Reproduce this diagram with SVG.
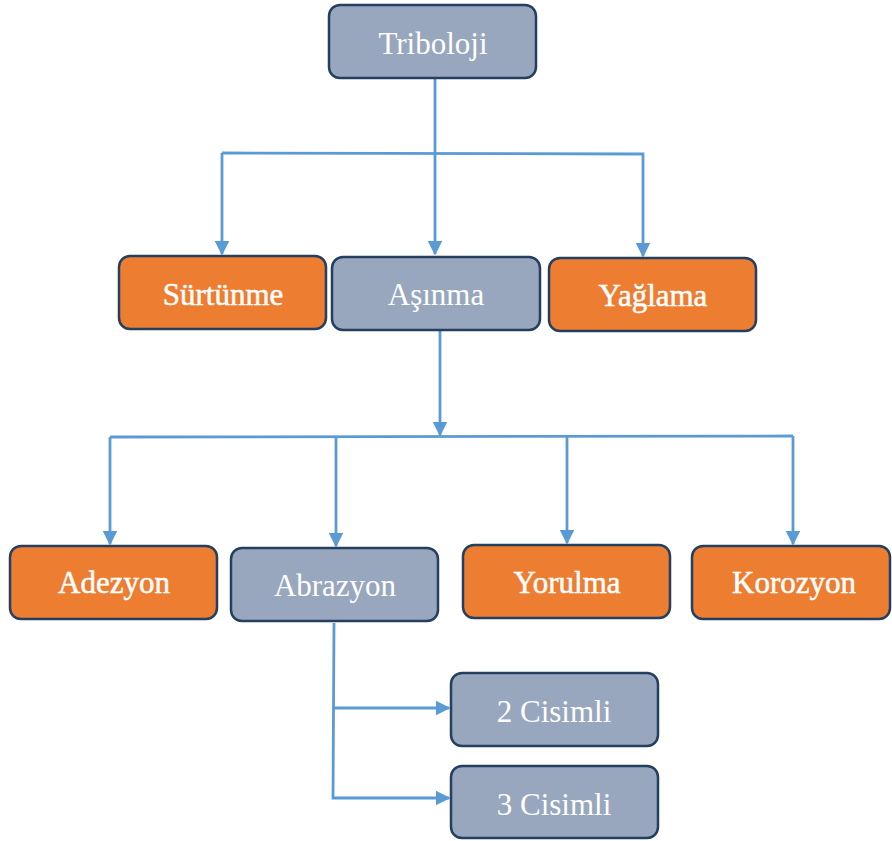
<svg xmlns="http://www.w3.org/2000/svg" width="892" height="841" viewBox="0 0 892 841">
  <style>
    .box { stroke: #243F60; stroke-width: 2.5; }
    .gray { fill: #98A7BE; }
    .orange { fill: #ED7D31; }
    .lbl { font-family: "Liberation Serif", "Times New Roman", serif; font-size: 31px; fill: #FFFFFF; text-anchor: middle; }
    .b { stroke: #FFFFFF; stroke-width: 0.5; }
    .wire { fill: none; stroke: #5B9BD5; stroke-width: 2.8; }
  </style>
  <defs>
    <marker id="arrow" viewBox="0 0 10 10" refX="9" refY="5" markerWidth="5.2" markerHeight="5.2" markerUnits="strokeWidth" orient="auto">
      <path d="M0,0 L10,5 L0,10 Z" fill="#5B9BD5"/>
    </marker>
  </defs>
  <rect width="892" height="841" fill="#FFFFFF"/>

  <g id="connectors">
    <!-- Triboloji to first level -->
    <path class="wire" d="M435,78 L435,254" marker-end="url(#arrow)"/>
    <path class="wire" d="M222,153 L643,154 L643,256" marker-end="url(#arrow)"/>
    <path class="wire" d="M222,153 L222,254" marker-end="url(#arrow)"/>
    <!-- Aşınma to its children -->
    <path class="wire" d="M440,331 L440,435" marker-end="url(#arrow)"/>
    <path class="wire" d="M110,437 L793,436"/>
    <path class="wire" d="M110,437 L110,544" marker-end="url(#arrow)"/>
    <path class="wire" d="M336,437 L336,546" marker-end="url(#arrow)"/>
    <path class="wire" d="M567,436 L567,543" marker-end="url(#arrow)"/>
    <path class="wire" d="M793,436 L793,544" marker-end="url(#arrow)"/>
    <!-- Abrazyon to its children -->
    <path class="wire" d="M334,623 L333,798 L449,798" marker-end="url(#arrow)"/>
    <path class="wire" d="M334,708 L449,708" marker-end="url(#arrow)"/>
  </g>

  <g id="triboloji">
    <rect class="box gray" x="329" y="5" width="207" height="73" rx="11"/>
    <text class="lbl" x="433" y="54">Triboloji</text>
  </g>
  <g id="surtunme">
    <rect class="box orange" x="119" y="256" width="207" height="73" rx="11"/>
    <text class="lbl b" x="223" y="305">Sürtünme</text>
  </g>
  <g id="asinma">
    <rect class="box gray" x="332" y="257" width="208" height="73" rx="11"/>
    <text class="lbl" x="436" y="305">Aşınma</text>
  </g>
  <g id="yaglama">
    <rect class="box orange" x="549" y="258" width="207" height="73" rx="11"/>
    <text class="lbl b" x="653" y="306">Yağlama</text>
  </g>
  <g id="adezyon">
    <rect class="box orange" x="10" y="546" width="207" height="73" rx="11"/>
    <text class="lbl b" x="114" y="593">Adezyon</text>
  </g>
  <g id="abrazyon">
    <rect class="box gray" x="231" y="548" width="207" height="73" rx="11"/>
    <text class="lbl" x="335" y="596">Abrazyon</text>
  </g>
  <g id="yorulma">
    <rect class="box orange" x="463" y="545" width="207" height="73" rx="11"/>
    <text class="lbl b" x="567" y="593">Yorulma</text>
  </g>
  <g id="korozyon">
    <rect class="box orange" x="692" y="546" width="198" height="73" rx="11"/>
    <text class="lbl b" x="794" y="593">Korozyon</text>
  </g>
  <g id="iki-cisimli">
    <rect class="box gray" x="451" y="673" width="207" height="73" rx="11"/>
    <text class="lbl" x="554" y="722">2 Cisimli</text>
  </g>
  <g id="uc-cisimli">
    <rect class="box gray" x="451" y="766" width="207" height="72" rx="11"/>
    <text class="lbl" x="554" y="815">3 Cisimli</text>
  </g>
</svg>
